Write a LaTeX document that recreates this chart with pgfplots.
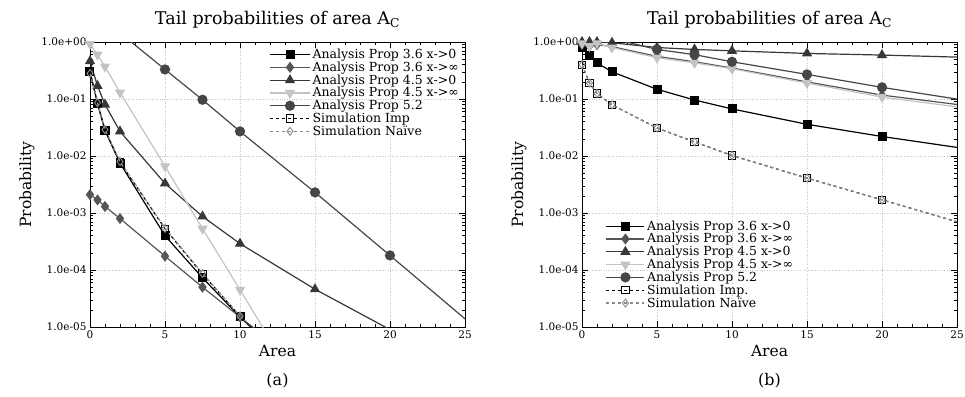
\documentclass[border=0pt]{standalone}
\usepackage{fontspec}
\setmainfont{DejaVu Serif}
\usepackage{pgfplots}
\pgfplotsset{compat=1.18}
\definecolor{cB}{RGB}{85,85,85}
\definecolor{cC}{RGB}{55,55,55}
\definecolor{cD}{RGB}{195,195,195}
\definecolor{cE}{RGB}{70,70,70}
\definecolor{cF}{RGB}{140,140,140}
\pgfplotsset{
  sA/.style={black, line width=1.2pt, mark=square*, mark size=3.9pt, mark options={solid}},
  sB/.style={cB, line width=1.2pt, mark=diamond*, mark size=4.6pt, mark options={solid}},
  sC/.style={cC, line width=1.2pt, mark=triangle*, mark size=4.8pt, mark options={solid}},
  sD/.style={cD, line width=1.2pt, mark=triangle*, mark size=4.8pt, mark options={solid, rotate=180}},
  sE/.style={cE, line width=1.2pt, mark=*, mark size=4.5pt, mark options={solid}},
  sF/.style={black, line width=1.2pt, dashed, mark=square, mark size=3.6pt, mark options={solid, fill=white, line width=1pt}},
  sG/.style={cF, line width=1.2pt, dashed, mark=diamond, mark size=4pt, mark options={solid, fill=white, line width=0.9pt}},
}
\begin{document}
\begin{tikzpicture}
\begin{axis}[name=ax1,
    scale only axis, width=375pt, height=285pt,
    ymode=log, xmin=0, xmax=25, ymin=1e-5, ymax=1,
    xtick={0,5,10,15,20,25}, xticklabels={0,5,10,15,20,25},
    minor x tick num=4,
    ytick={1e-5,1e-4,1e-3,1e-2,1e-1,1},
    yticklabels={1.0e-05,1.0e-04,1.0e-03,1.0e-02,1.0e-01,1.0e+00},
    grid=major, major grid style={dotted, gray!45, line width=0.6pt},
    tick align=inside, major tick length=6pt, minor tick length=3pt,
    tick style={black, line width=0.6pt},
    axis line style={line width=0.8pt},
    clip mode=individual,
    tick label style={font=\fontsize{10.5}{12}\selectfont},
    label style={font=\fontsize{15.5}{18}\selectfont},
    title style={font=\fontsize{17.5}{20}\selectfont, yshift=4pt},
    title={Tail probabilities of area A\textsubscript{C}},
    xlabel={Area}, ylabel={Probability},
    legend cell align=left,
    legend image code/.code={\draw[mark repeat=2,mark phase=2] plot coordinates {(0pt,0pt) (20pt,0pt) (40pt,0pt)};},
    legend style={draw=none, fill=none, font=\fontsize{12.5}{13}\selectfont,
      row sep=-2.2pt, at={(0.997,0.99)}, anchor=north east},
  ]
\addplot[sA] coordinates {(0,0.30) (0.5,0.083) (1,0.028) (2,0.0075) (5,4.0e-4) (7.5,7.3e-5) (10,1.5e-5) (12,4.8e-6)};
\addlegendentry{Analysis Prop 3.6 x->0}
\addplot[sB] coordinates {(0,2.1e-3) (0.5,1.7e-3) (1,1.3e-3) (2,8e-4) (5,1.75e-4) (7.5,5e-5) (10,1.5e-5) (12.5,4.5e-6)};
\addlegendentry{Analysis Prop 3.6 x->∞}
\addplot[sC] coordinates {(0,0.46) (0.5,0.17) (1,0.08) (2,0.027) (5,3.3e-3) (7.5,8.7e-4) (10,2.9e-4) (15,4.6e-5) (20,9e-6)};
\addlegendentry{Analysis Prop 4.5 x->0}
\addplot[sD] coordinates {(0,0.92) (0.5,0.6) (1,0.37) (2,0.13) (5,6.6e-3) (7.5,5.3e-4) (10,4.5e-5) (12.5,3.7e-6)};
\addlegendentry{Analysis Prop 4.5 x->∞}
\addplot[sE] coordinates {(2,1.45) (5,0.33) (7.5,0.097) (10,0.027) (15,2.3e-3) (20,1.8e-4) (27,5e-6)};
\addlegendentry{Analysis Prop 5.2}
\addplot[sF] coordinates {(0,0.30) (0.5,0.085) (1,0.029) (2,0.0078) (5,5.3e-4) (7.5,8.5e-5) (10,1.55e-5)};
\addlegendentry{Simulation Imp}
\addplot[sG] coordinates {(0,0.28) (0.5,0.086) (1,0.029) (2,0.0080) (5,5.4e-4) (7.5,8.7e-5) (10,1.55e-5)};
\addlegendentry{Simulation Na\"{\i}ve}
\node[font=\fontsize{16}{18}\selectfont] at (axis description cs:0.5,-0.19) {(a)};
\end{axis}
\begin{axis}[name=ax2, at={(492pt,0pt)},
    scale only axis, width=375pt, height=285pt,
    ymode=log, xmin=0, xmax=25, ymin=1e-5, ymax=1,
    xtick={0,5,10,15,20,25}, xticklabels={0,5,10,15,20,25},
    minor x tick num=4,
    ytick={1e-5,1e-4,1e-3,1e-2,1e-1,1},
    yticklabels={1.0e-05,1.0e-04,1.0e-03,1.0e-02,1.0e-01,1.0e+00},
    grid=major, major grid style={dotted, gray!45, line width=0.6pt},
    tick align=inside, major tick length=6pt, minor tick length=3pt,
    tick style={black, line width=0.6pt},
    axis line style={line width=0.8pt},
    clip mode=individual,
    tick label style={font=\fontsize{10.5}{12}\selectfont},
    label style={font=\fontsize{15.5}{18}\selectfont},
    title style={font=\fontsize{17.5}{20}\selectfont, yshift=4pt},
    title={Tail probabilities of area A\textsubscript{C}},
    xlabel={Area}, ylabel={Probability},
    legend cell align=left,
    legend image code/.code={\draw[mark repeat=2,mark phase=2] plot coordinates {(0pt,0pt) (19pt,0pt) (38pt,0pt)};},
    legend style={draw=none, fill=none, font=\fontsize{12.5}{13}\selectfont,
      row sep=-2.2pt, at={(0.055,0.05)}, anchor=south west},
  ]
\addplot[sA] coordinates {(0,0.8) (0.5,0.57) (1,0.43) (2,0.30) (5,0.148) (7.5,0.096) (10,0.067) (15,0.036) (20,0.022) (30,0.0091)};
\addlegendentry{Analysis Prop 3.6 x->0}
\addplot[sB] coordinates {(0,0.9) (0.5,0.85) (1,0.9) (2,0.83) (5,0.56) (7.5,0.45) (10,0.35) (15,0.2) (20,0.117) (30,0.055)};
\addlegendentry{Analysis Prop 3.6 x->∞}
\addplot[sC] coordinates {(0,1.0) (0.5,1.0) (1,1.0) (2,0.97) (5,0.8) (7.5,0.74) (10,0.70) (15,0.63) (20,0.59) (30,0.50)};
\addlegendentry{Analysis Prop 4.5 x->0}
\addplot[sD] coordinates {(0,0.95) (0.5,0.85) (1,0.95) (2,0.8) (5,0.53) (7.5,0.43) (10,0.34) (15,0.19) (20,0.108) (30,0.049)};
\addlegendentry{Analysis Prop 4.5 x->∞}
\addplot[sE] coordinates {(0,1.5) (2,1.15) (5,0.74) (7.5,0.6) (10,0.45) (15,0.27) (20,0.16) (30,0.062)};
\addlegendentry{Analysis Prop 5.2}
\addplot[sF] coordinates {(0,0.4) (0.5,0.19) (1,0.125) (2,0.079) (5,0.031) (7.5,0.0177) (10,0.0102) (15,0.0041) (20,0.0017) (30,2.9e-4)};
\addlegendentry{Simulation Imp.}
\addplot[sG] coordinates {(0,0.4) (0.5,0.19) (1,0.125) (2,0.079) (5,0.031) (7.5,0.0177) (10,0.0102) (15,0.0041) (20,0.0017) (30,2.9e-4)};
\addlegendentry{Simulation Na\"{\i}ve}
\node[font=\fontsize{16}{18}\selectfont] at (axis description cs:0.5,-0.19) {(b)};
\end{axis}
\pgfresetboundingbox
\path[use as bounding box] ([xshift=-90pt,yshift=-69pt]ax1.south west) rectangle ([xshift=8pt,yshift=42pt]ax2.north east);
\end{tikzpicture}
\end{document}
